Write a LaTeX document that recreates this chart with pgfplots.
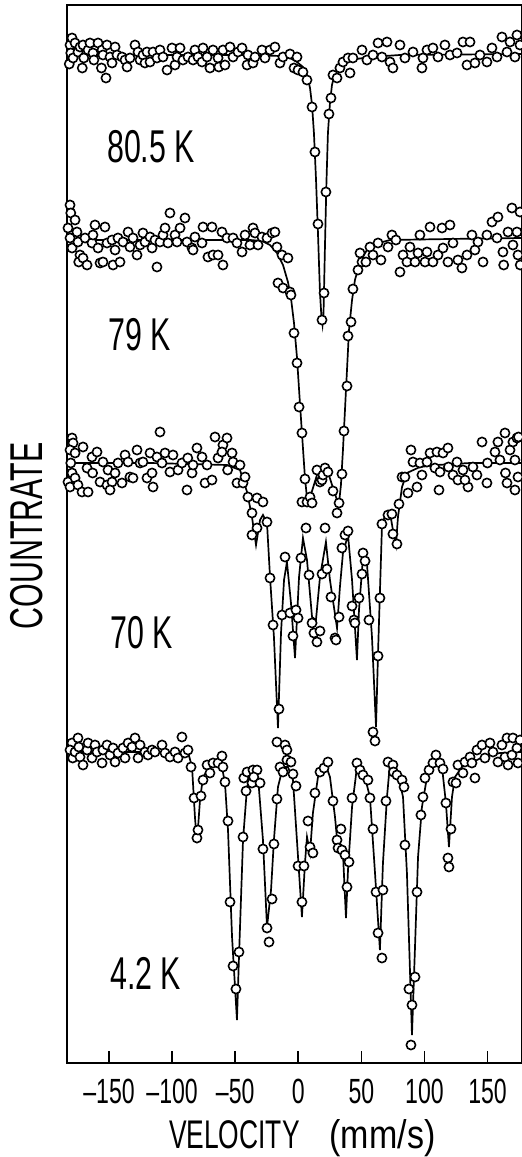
\documentclass[border=0pt]{standalone}
\usepackage{fontspec}
\usepackage{pgfplots}
\usepackage{pgfplotstable}
\pgfplotsset{compat=1.18}
\newfontfamily\din[FakeStretch=0.66]{Liberation Sans}
\newfontfamily\dinw[FakeStretch=0.85]{Liberation Sans}
\newcommand\tickf{\din\fontsize{35}{36}\selectfont}
\newcommand\labf{\din\fontsize{46}{48}\selectfont}

% ---------------- 80.5 K ----------------
\pgfplotstableread{
v y
-180.9 1018
-180.3 1010
-181.5 999
-179.3 1025
-178.5 1005
-176.9 1020
-174.6 1011
-173.0 1016
-170.6 1018
-170.0 1005
-171.2 995
-166.6 1013
-165.1 1020
-162.7 1010
-162.0 1003
-158.7 1020
-155.5 1013
-156.0 995
-154.8 1008
-152.4 985
-151.6 1018
-149.2 1006
-147.6 1000
-145.2 1016
-143.7 1008
-139.7 1006
-137.3 1003
-135.7 996
-133.4 1005
-129.4 1018
-127.0 1011
-125.4 1003
-123.1 1008
-121.5 1000
-119.9 1011
-117.5 1001
-115.1 1011
-112.0 1005
-109.6 1013
-107.2 1006
-104.0 993
-100.1 1015
-97.7 998
-96.1 1006
-93.7 1015
-91.4 1003
-87.4 1006
-83.4 1003
-81.9 1013
-79.5 1006
-76.3 1001
-75.5 1015
-72.3 1006
-70.0 995
-67.6 1013
-63.6 1005
-63.0 996
-59.7 1013
-58.1 998
-54.1 1016
-51.7 1006
-47.8 1011
-44.6 1015
-40.6 998
-39.9 1008
-35.9 1000
-34.3 1006
-28.8 1013
-26.4 1005
-22.4 1013
-18.5 1016
-14.5 1000
-12.1 1006
-6.6 1009
-3.4 995
-1.0 1006
-0.2 993
3.7 991
6.9 983
10.9 956
13.2 911
15.6 839
18.8 743
20.4 770
21.9 871
24.3 949
25.9 965
27.5 988
30.7 985
33.0 995
35.4 1001
39.4 1005
41.0 990
43.3 1005
50.5 1013
54.4 1003
59.2 1008
63.2 1020
66.3 1006
70.3 1021
72.7 1001
75.0 995
80.6 1018
84.5 1005
90.9 1011
98.0 995
98.8 1005
102.0 1013
106.7 1015
110.7 1006
116.2 1018
120.2 1008
125.8 1010
130.5 1021
133.7 998
136.1 1021
140.0 1000
144.0 1008
149.5 1001
153.5 1015
157.5 1006
161.4 1026
165.4 1011
167.8 1021
171.7 1006
173.3 1028
175.7 1018
}\ptsA
\pgfplotstableread{
v y
-183.3 1008
-117.5 1008
-38.3 1008
-14.5 1007
-6.6 1005
-1.0 1001
3.7 996
6.9 988
9.3 975
10.9 958
12.4 930
14.0 885
15.6 830
17.2 770
18.4 745
19.2 738
20.0 750
21.2 820
22.3 880
23.5 930
25.1 960
26.7 978
29.1 990
33.0 998
41.0 1003
56.8 1006
80.6 1008
176.9 1009
}\fitA

% ---------------- 79 K ----------------
\pgfplotstableread{
v y
-180.9 858
-180.3 850
-176.9 843
-182.5 835
-180.9 825
-179.3 815
-175.4 831
-174.6 821
-173.0 808
-174.0 801
-170.6 805
-167.4 798
-169.0 825
-163.5 820
-162.7 828
-161.1 838
-158.7 815
-157.1 800
-154.8 801
-153.2 836
-151.6 820
-147.6 823
-146.8 798
-145.2 813
-142.9 825
-141.3 801
-138.9 821
-134.9 831
-133.4 816
-131.0 825
-127.8 808
-125.4 818
-123.1 830
-121.5 821
-117.5 826
-115.9 815
-113.6 823
-112.0 796
-109.6 821
-107.2 828
-105.6 835
-103.3 820
-101.7 850
-97.7 828
-96.1 821
-93.7 835
-89.8 845
-88.2 821
-84.2 815
-83.4 813
-81.9 826
-76.3 820
-75.5 836
-71.6 806
-68.4 836
-67.6 808
-63.6 808
-60.5 831
-59.7 798
-56.5 825
-51.7 825
-48.6 820
-44.6 811
-42.2 828
-38.3 818
-35.9 835
-34.3 830
-31.9 818
-28.8 826
-24.8 825
-20.8 830
-18.5 831
-16.9 816
-16.1 780
-12.9 808
-12.1 775
-8.2 805
-6.6 771
-5.8 768
-3.4 730
-1.0 700
0.6 656
2.9 630
5.3 584
2.9 561
6.9 561
9.3 566
10.9 560
14.8 593
17.2 581
18.8 583
19.6 588
21.2 595
23.5 591
27.5 572
30.7 550
32.3 560
34.6 589
36.2 632
38.6 677
39.4 727
41.8 741
43.3 774
47.3 793
48.9 810
50.5 801
53.6 801
56.8 816
59.2 808
63.2 820
65.5 803
71.1 816
74.2 828
77.4 823
80.6 791
83.0 808
86.1 801
88.5 816
92.5 801
94.9 810
96.4 828
100.4 801
102.0 811
104.4 836
106.7 801
110.7 808
113.9 835
114.7 815
118.6 801
120.2 838
122.6 820
126.5 803
129.7 795
133.7 808
137.6 828
140.0 813
142.4 821
146.4 801
149.5 828
153.5 841
157.5 825
158.2 846
162.2 811
162.8 798
166.2 831
169.3 855
170.1 818
174.1 808
173.3 831
175.7 851
175.9 798
}\ptsB
\pgfplotstableread{
v y
-183.3 823
-117.5 823
-38.3 823
-28.8 822
-22.4 818
-16.9 810
-12.1 798
-8.2 781
-5.8 765
-3.4 740
-1.0 705
1.3 660
3.7 615
5.3 585
6.9 565
8.5 562
10.9 572
14.8 588
18.8 595
23.5 591
27.5 575
30.7 563
32.3 560
33.8 578
35.4 613
37.0 653
38.6 693
40.2 733
42.6 763
44.9 783
48.9 801
54.4 813
60.8 819
72.7 823
120.2 824
176.9 825
}\fitB

% ---------------- 70 K ----------------
\pgfplotstableread{
v y
-179.3 625
-178.5 620
-180.9 613
-176.9 610
-180.3 600
-179.3 590
-182.5 581
-180.9 576
-176.9 585
-174.6 578
-171.4 571
-166.6 571
-170.6 616
-167.4 595
-163.5 606
-163.0 590
-159.5 611
-157.1 581
-154.8 601
-151.6 578
-147.6 581
-149.2 573
-150.8 593
-145.2 590
-142.9 600
-139.7 580
-137.3 608
-134.9 601
-133.4 586
-131.0 585
-127.8 613
-125.4 600
-123.1 601
-119.9 585
-117.5 610
-115.9 590
-115.1 576
-112.0 606
-109.6 631
-108.0 600
-105.6 610
-101.7 591
-99.3 608
-95.3 593
-92.2 600
-88.2 573
-87.6 605
-84.2 590
-83.4 598
-80.3 615
-76.3 606
-73.9 580
-72.3 598
-68.4 583
-66.0 626
-63.6 605
-59.7 618
-56.5 625
-60.5 611
-56.0 593
-52.5 610
-51.7 601
-46.2 598
-48.6 580
-43.8 580
-42.2 586
-39.9 566
-36.7 550
-32.7 565
-28.0 561
-32.7 535
-36.7 528
-24.8 541
-22.4 485
-20.0 438
-15.3 354
-16.9 321
-10.5 318
-9.0 313
-12.9 448
-10.5 506
-6.6 450
-4.2 427
-1.8 453
-0.2 445
2.1 505
6.1 535
8.5 488
10.9 440
12.4 430
14.8 421
17.2 432
18.8 489
21.2 535
22.7 494
25.9 466
29.1 425
29.9 423
32.3 446
34.6 515
37.0 528
39.4 532
42.6 457
44.1 443
44.9 440
48.1 465
50.5 489
51.3 510
52.9 502
56.0 443
63.2 407
59.2 331
60.8 322
64.7 465
66.3 539
71.1 548
74.2 549
75.0 529
78.2 519
79.8 559
82.2 586
84.5 586
86.9 570
89.3 613
90.9 601
94.1 576
98.0 588
96.4 600
102.0 601
104.4 610
109.9 611
108.3 595
111.5 573
112.3 591
114.7 610
118.6 615
119.0 596
122.6 588
125.8 601
126.5 583
130.5 593
134.5 576
132.1 583
138.4 596
141.6 588
145.6 621
149.5 580
149.9 600
155.9 611
158.2 621
163.8 630
159.8 603
164.2 590
165.4 580
167.8 613
170.1 621
173.3 625
171.7 603
174.1 586
171.7 573
174.5 626
}\ptsC
\pgfplotstableread{
v y
-183.3 600
-117.5 600
-56.5 598
-46.2 593
-40.6 571
-36.7 546
-33.5 518
-30.3 543
-28.0 548
-24.8 540
-22.4 486
-19.3 426
-16.1 335
-13.7 430
-11.3 483
-9.0 501
-5.8 460
-2.6 405
0.6 486
3.7 525
6.9 503
10.9 446
14.0 443
17.2 486
21.9 521
25.1 483
30.7 435
33.0 476
35.4 510
39.4 528
42.6 483
46.5 403
48.1 453
51.3 506
54.4 500
58.4 426
61.6 336
63.2 410
66.3 536
68.7 548
72.7 550
75.0 533
77.4 518
79.0 546
82.2 576
86.1 590
96.4 596
109.9 598
136.1 600
176.9 600
}\fitC

% ---------------- 4.2 K ----------------
\pgfplotstableread{
v y
-179.3 320
-180.9 313
-178.8 305
-176.9 311
-174.6 325
-174.0 316
-173.0 306
-170.6 298
-167.4 313
-166.6 320
-163.5 305
-161.1 318
-159.5 311
-155.5 300
-154.8 313
-151.6 318
-149.2 308
-146.8 315
-145.2 301
-142.9 310
-138.9 315
-137.3 305
-134.9 320
-131.8 316
-129.4 325
-127.0 305
-125.4 318
-121.5 311
-119.1 308
-115.9 313
-113.6 311
-108.0 318
-105.6 310
-101.7 306
-97.7 311
-95.3 305
-92.2 326
-89.8 310
-87.4 313
-85.0 296
-82.6 265
-80.3 225
-79.5 233
-77.1 267
-75.5 283
-72.3 298
-70.0 290
-67.6 300
-63.6 300
-60.5 307
-59.7 296
-58.1 281
-55.7 242
-54.1 161
-51.7 97
-49.4 74
-47.0 111
-43.8 226
-41.4 272
-43.2 285
-40.6 291
-36.7 280
-35.9 293
-32.7 293
-35.3 286
-30.3 280
-28.0 214
-24.8 135
-23.2 121
-20.8 164
-19.3 219
-16.9 264
-14.5 296
-12.1 291
-9.0 303
-5.8 301
-4.2 289
-1.8 277
-0.2 197
2.9 161
4.5 197
7.7 242
9.3 216
11.6 210
13.2 270
17.2 291
20.4 295
23.5 301
27.5 262
30.7 223
33.8 234
31.5 215
34.6 213
37.0 208
38.6 176
40.2 201
42.6 265
46.5 300
48.9 293
51.3 288
55.2 283
56.8 265
59.2 234
61.6 171
63.2 130
66.3 105
67.1 173
69.5 262
71.1 301
75.0 298
75.4 291
78.2 288
82.2 283
83.8 276
84.5 218
87.7 74
90.1 58
89.3 18
92.5 86
94.1 171
97.2 248
98.8 266
100.4 285
103.6 293
106.7 300
109.1 308
112.3 300
114.7 294
117.0 260
118.6 205
119.4 196
121.0 234
122.6 281
125.0 280
126.5 298
130.5 290
132.1 301
136.1 306
137.6 300
140.0 285
141.6 313
145.6 318
147.9 305
151.9 320
154.3 311
158.2 301
161.4 318
163.8 306
166.2 298
165.4 325
170.1 325
169.3 308
173.3 315
174.1 300
175.7 323
}\ptsD
\pgfplotstableread{
v y
-183.3 311
-87.4 311
-84.2 296
-81.9 246
-80.3 220
-77.9 263
-75.5 286
-70.0 296
-64.4 301
-60.5 296
-58.1 280
-55.7 233
-52.5 126
-48.6 43
-47.0 106
-43.8 223
-40.6 276
-36.7 291
-31.9 286
-28.0 223
-24.8 136
-21.6 173
-19.3 223
-16.1 276
-12.1 296
-8.2 296
-4.2 283
-0.2 206
2.9 146
5.3 200
6.9 226
9.3 210
11.6 250
15.6 286
21.2 300
25.1 286
29.1 246
31.5 213
35.4 210
37.8 145
39.4 193
42.6 256
46.5 296
51.3 293
56.8 266
60.8 190
64.7 113
67.1 200
70.3 266
72.7 300
78.2 293
83.0 266
86.1 190
90.1 28
92.5 116
94.9 206
98.0 256
102.0 286
108.3 303
113.9 296
117.0 260
119.4 216
121.8 266
124.2 286
129.7 296
138.4 301
146.4 306
159.8 310
176.9 311
}\fitD

\begin{document}
\begin{tikzpicture}
\useasboundingbox (-67pt,-94pt) rectangle (455pt,1063pt);
\begin{axis}[
  at={(0pt,0pt)}, anchor=south west,
  scale only axis,
  width=454.5pt, height=1058pt,
  xmin=-183.3, xmax=176.9,
  ymin=0, ymax=1058,
  axis line style={line width=1.8pt},
  xtick={-150,-100,-50,0,50,100,150},
  xticklabels={{\tickf –150},{\tickf –100},{\tickf –50},{\tickf 0},{\tickf 50},{\tickf 100},{\tickf 150}},
  xtick pos=bottom,
  ytick=\empty,
  tick align=inside,
  major tick length=12pt,
  tick style={line width=1.6pt, black},
  xticklabel style={anchor=base, yshift=-40pt, inner sep=0pt},
  xlabel={\din\fontsize{40}{42}\selectfont VELOCITY\hspace{30pt}{\dinw\fontsize{40}{42}\selectfont (mm/s)}},
  xlabel style={at={(rel axis cs:0.5,0)}, anchor=base, yshift=-85pt, xshift=8pt, inner sep=0pt},
  ylabel={\labf COUNTRATE},
  ylabel style={at={(axis description cs:-0.0891,0.4981)}, anchor=center},
  every axis plot/.append style={black},
]
\addplot[line width=1.7pt, no marks] table[x=v, y=y] {\fitA};
\addplot[line width=1.7pt, no marks] table[x=v, y=y] {\fitB};
\addplot[line width=1.7pt, no marks] table[x=v, y=y] {\fitC};
\addplot[line width=1.7pt, no marks] table[x=v, y=y] {\fitD};
\addplot[only marks, mark=*, mark size=4.6pt, mark options={fill=white, draw=black, line width=1.6pt}] table[x=v, y=y] {\ptsA};
\addplot[only marks, mark=*, mark size=4.6pt, mark options={fill=white, draw=black, line width=1.6pt}] table[x=v, y=y] {\ptsB};
\addplot[only marks, mark=*, mark size=4.6pt, mark options={fill=white, draw=black, line width=1.6pt}] table[x=v, y=y] {\ptsC};
\addplot[only marks, mark=*, mark size=4.6pt, mark options={fill=white, draw=black, line width=1.6pt}] table[x=v, y=y] {\ptsD};
\node[anchor=base west, inner sep=0pt] at (axis cs:-151.6,900) {\labf 80.5 K};
\node[anchor=base west, inner sep=0pt] at (axis cs:-150.8,712) {\labf 79 K};
\node[anchor=base west, inner sep=0pt] at (axis cs:-149.2,414) {\labf 70 K};
\node[anchor=base west, inner sep=0pt] at (axis cs:-149.2,74) {\labf 4.2 K};
\end{axis}
\end{tikzpicture}
\end{document}
